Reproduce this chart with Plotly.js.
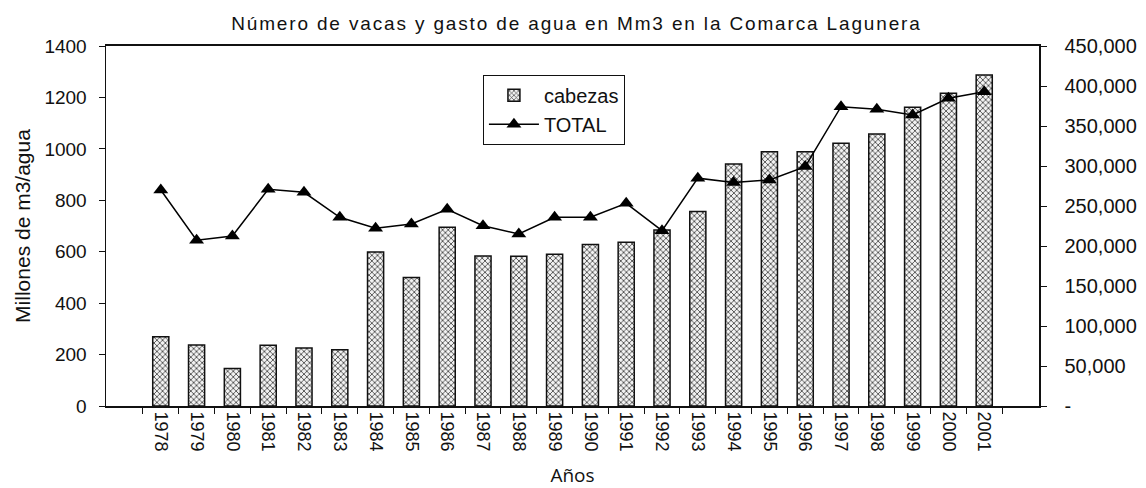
<!DOCTYPE html>
<html>
<head>
<meta charset="utf-8">
<script src="https://cdn.plot.ly/plotly-3.0.1.min.js"></script>
<style>
  html, body { margin: 0; padding: 0; background: #fff; }
  #chart { width: 1146px; height: 488px; }
  .gtitle { letter-spacing: 1.85px; }
</style>
</head>
<body>
<div id="chart"></div>
<script>
const years = ["1978","1979","1980","1981","1982","1983","1984","1985","1986","1987","1988","1989",
               "1990","1991","1992","1993","1994","1995","1996","1997","1998","1999","2000","2001"];
// Number of cows (cabezas), right axis
const cabezas = [86500, 76200, 47000, 75900, 72500, 70400, 192500, 160700, 223400, 187400, 187100, 189600,
                 201900, 204800, 219900, 243000, 302500, 317900, 317900, 328500, 340100, 373500, 390900, 413700];
// Water use TOTAL (Mm3), left axis
const total = [840, 645, 661, 843, 831, 734, 691, 708, 765, 701, 669, 734,
               734, 788, 682, 886, 869, 879, 931, 1164, 1154, 1132, 1197, 1222];
const leftTicks = [0, 200, 400, 600, 800, 1000, 1200, 1400];
const rightTicks = [0, 50000, 100000, 150000, 200000, 250000, 300000, 350000, 400000, 450000];
const rightTickText = ["-", "50,000", "100,000", "150,000", "200,000", "250,000", "300,000", "350,000", "400,000", "450,000"];

const FONT = "Arial, 'Liberation Sans', sans-serif";

const traces = [
  {
    type: "bar",
    name: "cabezas",
    x: years,
    y: cabezas,
    yaxis: "y",
    marker: {
      color: "#cccccc",
      line: { color: "#111", width: 1.5 },
      pattern: { shape: "x", size: 4, solidity: 0.35, fgcolor: "#333", bgcolor: "#f2f2f2" }
    }
  },
  {
    type: "scatter",
    mode: "lines+markers",
    name: "TOTAL",
    x: years,
    y: total,
    yaxis: "y2",
    line: { color: "#000", width: 1.5 },
    marker: { symbol: "triangle-up", size: 13, color: "#000" }
  }
];

const layout = {
  width: 1146,
  height: 488,
  margin: { l: 106, r: 107, t: 46, b: 82 },
  paper_bgcolor: "#fff",
  plot_bgcolor: "#fff",
  font: { family: FONT, color: "#111", size: 18 },
  bargap: 0.55,
  showlegend: true,
  title: {
    text: "Número de vacas y gasto de agua en Mm3 en la Comarca Lagunera",
    font: { family: FONT, size: 19, color: "#111" },
    x: 0.503, xanchor: "center",
    y: 0.952, yanchor: "middle"
  },
  legend: {
    x: 0.404, xanchor: "left",
    y: 0.92, yanchor: "top",
    bordercolor: "#111", borderwidth: 1,
    bgcolor: "#fff",
    itemwidth: 50,
    font: { family: FONT, size: 20, color: "#111" }
  },
  xaxis: {
    type: "category",
    tickangle: 90,
    tickson: "boundaries",
    ticks: "outside",
    ticklen: 6,
    tickcolor: "#111",
    showline: true,
    linecolor: "#111",
    linewidth: 2,
    mirror: true,
    showgrid: false,
    tickfont: { family: FONT, size: 18, color: "#111" },
    title: { text: "Años", font: { family: "'Open Sans', sans-serif", size: 19, color: "#111" }, standoff: 18 }
  },
  yaxis: {
    side: "right",
    range: [0, 450000],
    tickvals: rightTicks,
    ticktext: rightTickText,
    ticks: "outside",
    ticklen: 6,
    tickcolor: "#111",
    showline: true,
    linecolor: "#111",
    linewidth: 1.5,
    showgrid: false,
    zeroline: false,
    ticklabelstandoff: 14,
    tickfont: { family: FONT, size: 20, color: "#111" }
  },
  yaxis2: {
    overlaying: "y",
    side: "left",
    range: [0, 1400],
    tickvals: leftTicks,
    ticks: "outside",
    ticklen: 6,
    tickcolor: "#111",
    showline: true,
    linecolor: "#111",
    linewidth: 1.5,
    showgrid: false,
    zeroline: false,
    ticklabelstandoff: 8,
    tickfont: { family: FONT, size: 19, color: "#111" },
    title: { text: "Millones de m3/agua", font: { family: FONT, size: 21, color: "#111" }, standoff: 8 }
  }
};

Plotly.newPlot("chart", traces, layout, { displayModeBar: false, staticPlot: true });
</script>
</body>
</html>
